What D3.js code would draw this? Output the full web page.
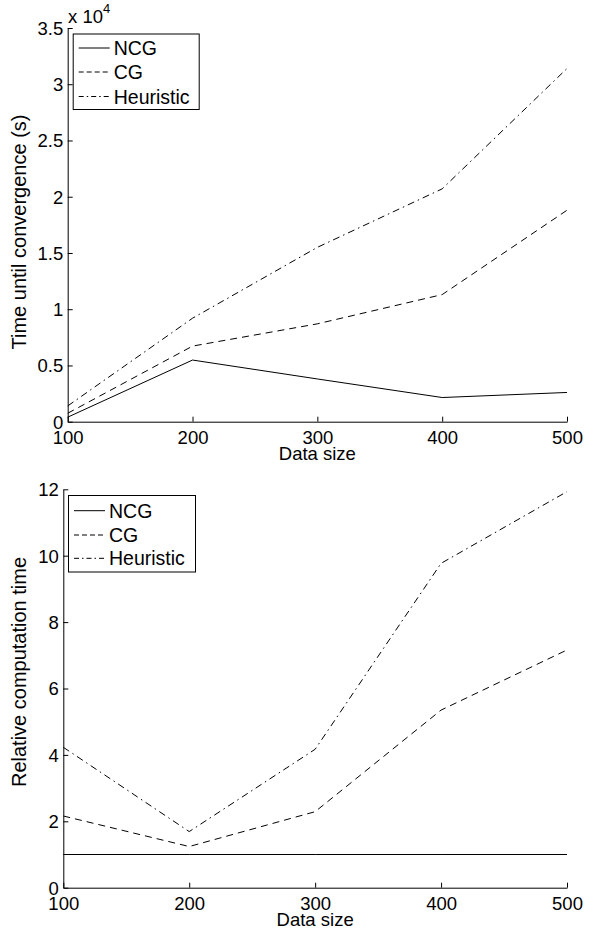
<!DOCTYPE html>
<html>
<head>
<meta charset="utf-8">
<script src="https://cdn.jsdelivr.net/npm/d3@7"></script>
<style>
  body { margin: 0; background: #fff; }
  svg { display: block; font-family: "Liberation Sans", Arial, sans-serif; }
</style>
</head>
<body>
<svg width="595" height="932"></svg>
<script>
// data
const sizes = [100, 200, 300, 400, 500]
const seriesNames = ['NCG', 'CG', 'Heuristic']

// top panel: time until convergence, seconds
const ncgTime = [400, 5480, 3800, 2150, 2600]
const cgTime = [750, 6720, 8700, 11300, 18800]
const heurTime = [1400, 9200, 15500, 20700, 31400]

// bottom panel: computation time relative to NCG
const ncgRel = [1, 1, 1, 1, 1]
const cgRel = [2.16, 1.24, 2.29, 5.35, 7.16]
const heurRel = [4.23, 1.69, 4.17, 9.77, 11.93]

const xTicks = [100, 200, 300, 400, 500]
const topYTicks = [0, 5000, 10000, 15000, 20000, 25000, 30000, 35000]
const bottomYTicks = [0, 2, 4, 6, 8, 10, 12]

const dashes = ['none', '7,5', '7,4,1.5,4']

const svg = d3.select('svg')

function panel(opts) {
  const { left, right, top, bottom, yMax, yTicks, yFmt, series, ylabel, ylabelY, legend } = opts

  const x = d3.scaleLinear().domain([100, 500]).range([left, right])
  const y = d3.scaleLinear().domain([0, yMax]).range([bottom, top])

  const g = svg.append('g')

  const xAxis = g.append('g')
    .attr('transform', `translate(0, ${bottom})`)
    .call(d3.axisBottom(x).tickValues(xTicks).tickSizeInner(-5).tickSizeOuter(0).tickFormat(d3.format('d')))
  xAxis.selectAll('text')
    .attr('y', 22.5).attr('dy', null)
    .attr('font-size', 18.5).attr('fill', '#000')

  const yAxis = g.append('g')
    .attr('transform', `translate(${left}, 0)`)
    .call(d3.axisLeft(y).tickValues(yTicks).tickSizeInner(-5).tickSizeOuter(0).tickFormat(yFmt))
  yAxis.selectAll('text')
    .attr('x', -4.5).attr('dy', '0.35em')
    .attr('font-size', 18.5).attr('fill', '#000')

  g.selectAll('.domain, .tick line').attr('stroke', '#000').attr('stroke-width', 1)

  const line = d3.line().x((d, i) => x(sizes[i])).y(d => y(d))

  g.selectAll('path.series')
    .data(series)
    .join('path')
    .attr('class', 'series')
    .attr('d', d => line(d))
    .attr('fill', 'none')
    .attr('stroke', '#000')
    .attr('stroke-width', 1)
    .attr('stroke-dasharray', (d, i) => dashes[i])

  g.append('text')
    .attr('x', (left + right) / 2)
    .attr('y', bottom + 38.3)
    .attr('text-anchor', 'middle')
    .attr('font-size', 18.5)
    .text('Data size')

  g.append('text')
    .attr('transform', `translate(26, ${ylabelY}) rotate(-90)`)
    .attr('text-anchor', 'middle')
    .attr('font-size', 20)
    .text(ylabel)

  // legend
  const lg = g.append('g').attr('transform', `translate(${legend.x}, ${legend.y})`)
  lg.append('rect')
    .attr('x', 0.5).attr('y', 0.5)
    .attr('width', legend.w).attr('height', legend.h)
    .attr('fill', '#fff').attr('stroke', '#000')
  seriesNames.forEach((name, i) => {
    const ry = legend.rows[i]
    lg.append('line')
      .attr('x1', 6).attr('x2', 37)
      .attr('y1', ry).attr('y2', ry)
      .attr('stroke', '#000')
      .attr('stroke-dasharray', dashes[i] === 'none' ? null : (i === 1 ? '5,3' : '5,3,1.5,3'))
    lg.append('text')
      .attr('x', 41).attr('y', ry + 7)
      .attr('font-size', 19.5)
      .text(name)
  })
  return g
}

const topPanel = panel({
  left: 67.7, right: 567, top: 28, bottom: 421.7,
  yMax: 35000, yTicks: topYTicks, yFmt: d => d / 10000,
  series: [ncgTime, cgTime, heurTime],
  ylabel: 'Time until convergence (s)', ylabelY: 232,
  legend: { x: 72.7, y: 33.5, w: 126, h: 75.5, rows: [14.5, 38.5, 63] }
})

// exponent label for top axis
const expo = topPanel.append('text').attr('x', 68).attr('y', 23).attr('font-size', 18.5)
expo.append('tspan').text('x 10')
expo.append('tspan').attr('font-size', 13).attr('dy', -10).text('4')

panel({
  left: 63.3, right: 567, top: 489.3, bottom: 887.7,
  yMax: 12, yTicks: bottomYTicks, yFmt: d3.format('d'),
  series: [ncgRel, cgRel, heurRel],
  ylabel: 'Relative computation time', ylabelY: 672,
  legend: { x: 68, y: 495, w: 127, h: 76.5, rows: [15.7, 40, 63.3] }
})
</script>
</body>
</html>
